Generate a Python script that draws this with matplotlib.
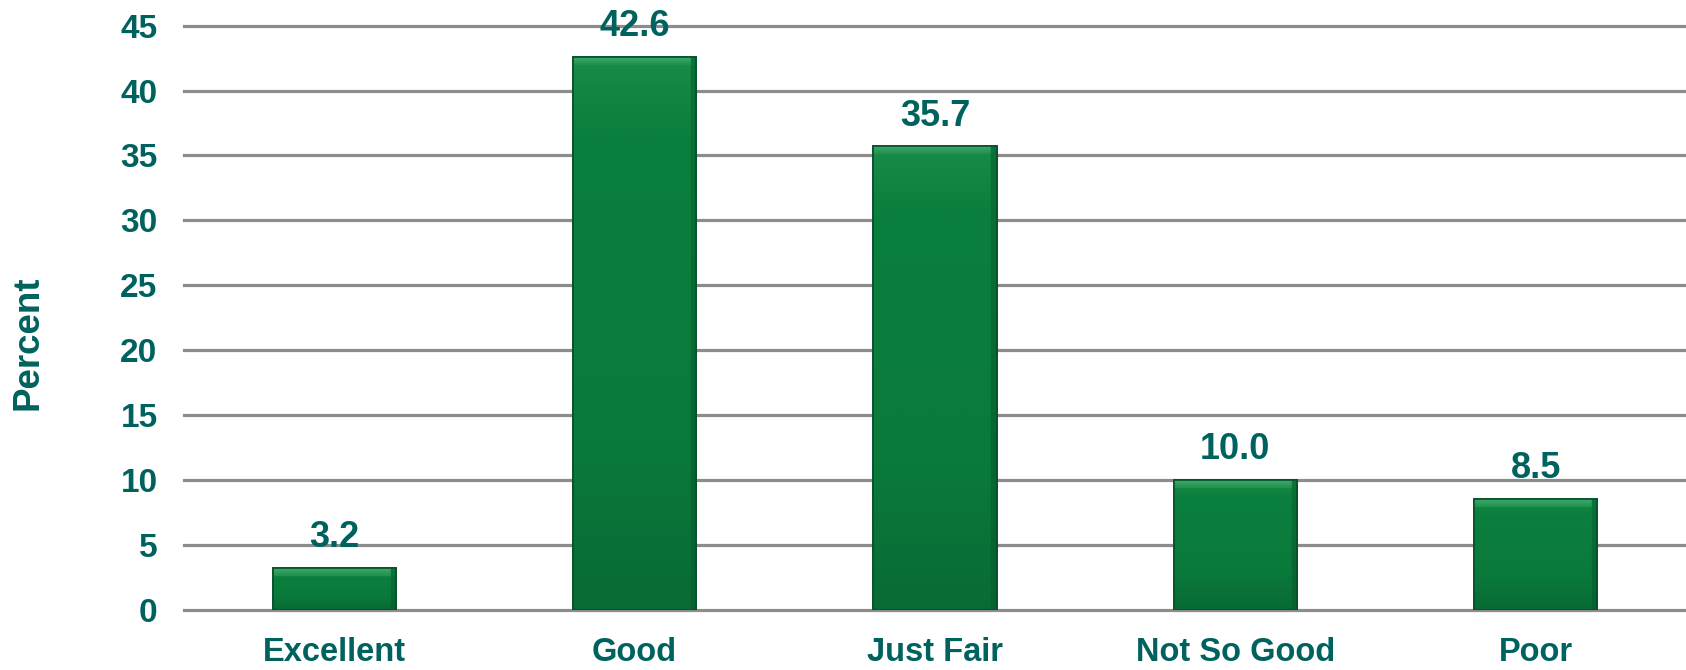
import numpy as np
import matplotlib.pyplot as plt
from matplotlib.colors import LinearSegmentedColormap

categories = ['Excellent', 'Good', 'Just Fair', 'Not So Good', 'Poor']
values = [3.2, 42.6, 35.7, 10.0, 8.5]
yticks = [0, 5, 10, 15, 20, 25, 30, 35, 40, 45]

teal = '#00625e'
grid_grey = '#8c8c8c'
plt.rcParams['font.family'] = ['Liberation Sans', 'DejaVu Sans']
plt.rcParams['font.weight'] = 'bold'

W, H = 1686, 670
fig = plt.figure(figsize=(W / 100, H / 100), dpi=100)
# axes placed in pixel terms: 0 at y=609.5, 45 at y=25.7
ppu = (609.5 - 25.7) / 45.0
ytop = 45.5
ax = fig.add_axes([184 / W, (H - 609.5) / H, (W - 184) / W, ytop * ppu / H])
ax.set_xlim(-0.5, len(categories) - 0.5)
ax.set_ylim(0, ytop)

for y in yticks:
    ax.axhline(y, color=grid_grey, lw=2.3, zorder=1, clip_on=False)

x = np.arange(len(categories))
bars = ax.bar(x, values, width=0.41, color='#0a7a3a', edgecolor='#05502a',
              linewidth=1.2, zorder=2)

# bevelled look: vertical shading plus light top strip and darker right side
cmap = LinearSegmentedColormap.from_list('g', ['#075f2f', '#0a7a3b', '#0b7f3d', '#45b070'])
for b in bars:
    x0, w, h = b.get_x(), b.get_width(), b.get_height()
    hp = h * ppu
    wp = w * 300.4
    ny, nx = max(int(hp), 2), 120
    yy = np.linspace(0, 1, ny).reshape(-1, 1)
    xx = np.linspace(0, 1, nx).reshape(1, -1)
    g = 0.15 + 0.6 * yy + 0 * xx
    g = np.where(yy > 1 - 9.0 / hp, 0.97 - (1 - yy) * hp / 9.0 * 0.2, g)
    g = np.where(xx > 1 - 6.0 / wp, g * 0.3, g)
    im = ax.imshow(g, cmap=cmap, vmin=0, vmax=1, aspect='auto', origin='lower',
                   extent=[x0, x0 + w, 0, h], zorder=2.5, interpolation='bilinear')
    im.set_clip_path(b)
    ax.bar(b.get_x() + w / 2, h, width=w, facecolor='none', edgecolor='#05502a',
           linewidth=1.2, zorder=3)

for xi, v in zip(x, values):
    ax.annotate(f'{v:.1f}', (xi, v), xytext=(0, 15), textcoords='offset points',
                ha='center', va='baseline', fontsize=26, color=teal,
                fontweight='bold', zorder=5)

ax.set_xticks(x)
ax.set_xticklabels(categories, fontsize=23.5, color=teal, fontweight='bold')
ax.set_yticks(yticks)
ax.set_yticklabels([str(t) for t in yticks], fontsize=24, color=teal, fontweight='bold')
ax.tick_params(axis='x', length=0, pad=20)
ax.tick_params(axis='y', length=0, pad=19)
for s in ax.spines.values():
    s.set_visible(False)

fig.text(28 / W, 1 - 343 / H, 'Percent', rotation=90, ha='center', va='center',
         fontsize=26.5, color=teal, fontweight='bold')

fig.savefig('out.png', dpi=100)
